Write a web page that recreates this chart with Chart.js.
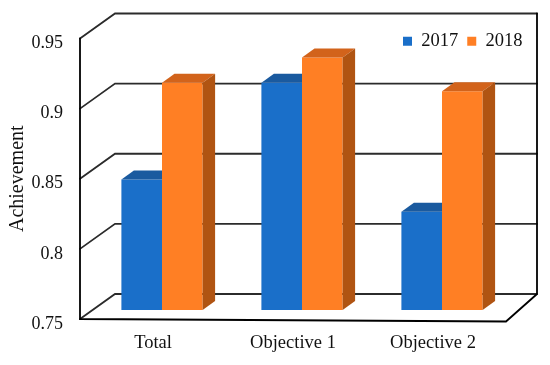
<!DOCTYPE html>
<html><head><meta charset="utf-8">
<style>html,body{margin:0;padding:0;background:#fff}canvas{display:block}</style>
<script src="https://cdn.jsdelivr.net/npm/chart.js@4/dist/chart.umd.min.js"></script>
</head><body><canvas id="c" width="550" height="365"></canvas>
<script>
const categories = ['Total', 'Objective 1', 'Objective 2'];
const series2017 = [0.843, 0.912, 0.820];
const series2018 = [0.912, 0.930, 0.906];
const axisMin = 0.75, axisMax = 0.95, axisStep = 0.05;

const shades = {
  '2017': {front:'#1a6fc9', top:'#1a5a9f', side:'#15508f'},
  '2018': {front:'#ff7f24', top:'#d2631b', side:'#b05412'}
};
const FONT = '"Liberation Serif"';
const barShift = {x: 9, y: -9};
const barDepth = {x: 12.5, y: 9};
const wall = {left: 80, backLeft: 115, backRight: 537, frontRightX: 506, frontRightY: 321.5, dy: 25};

const decor = {
  id: 'decor',
  afterLayout(chart) {
    const l = chart.legend;
    const x0 = l.legendHitBoxes[0].left, y0 = l.legendHitBoxes[0].top;
    l.left = 394; l.right = 550; l.top = 23; l.bottom = 62;
    const dx = 403 - x0, dy = 33 - y0;
    l.legendHitBoxes.forEach(b => { b.left += dx; b.top += dy; });
  },
  beforeDatasetsDraw(chart) {
    const {ctx} = chart, y = chart.scales.y;
    ctx.save();
    ctx.lineCap = 'round';
    ctx.strokeStyle = '#2b2b2b'; ctx.lineWidth = 1.8;
    y.ticks.forEach(t => {
      const p = y.getPixelForValue(t.value);
      ctx.beginPath();
      ctx.moveTo(wall.left, p);
      ctx.lineTo(wall.backLeft, p - wall.dy);
      ctx.lineTo(wall.backRight, p - wall.dy);
      ctx.stroke();
    });
    const top = y.getPixelForValue(axisMax), bot = y.getPixelForValue(axisMin);
    ctx.strokeStyle = '#000'; ctx.lineWidth = 1.8;
    ctx.beginPath();
    ctx.moveTo(wall.left, top); ctx.lineTo(wall.left, bot);
    ctx.lineTo(wall.frontRightX, wall.frontRightY);
    ctx.lineTo(wall.backRight, bot - wall.dy);
    ctx.lineTo(wall.backRight, top - wall.dy);
    ctx.stroke();
    ctx.restore();
  },
  beforeDatasetDraw(chart) {
    chart.ctx.save();
    chart.ctx.translate(barShift.x, barShift.y);
  },
  afterDatasetDraw(chart, args) {
    const {ctx} = chart, s = shades[chart.data.datasets[args.index].label];
    args.meta.data.forEach(b => {
      const L = b.x - b.width/2, R = b.x + b.width/2, T = b.y, B = b.base;
      const poly = (c, pts) => {
        ctx.fillStyle = c; ctx.beginPath();
        pts.forEach((p,i) => i ? ctx.lineTo(p[0],p[1]) : ctx.moveTo(p[0],p[1]));
        ctx.closePath(); ctx.fill();
      };
      ctx.save();
      if (args.index === 0) { // neighbouring bar stands in front of this one's right part
        ctx.beginPath(); ctx.rect(L - 1, 0, R - L + 1, chart.height); ctx.clip();
      }
      poly(s.top, [[L,T],[L+barDepth.x,T-barDepth.y],[R+barDepth.x,T-barDepth.y],[R,T]]);
      poly(s.side, [[R,T],[R+barDepth.x,T-barDepth.y],[R+barDepth.x,B-barDepth.y],[R,B]]);
      ctx.restore();
    });
    ctx.restore();
  }
};

new Chart(document.getElementById('c'), {
  type: 'bar',
  data: {
    labels: categories,
    datasets: [
      {label:'2017', data: series2017, backgroundColor: shades['2017'].front, base: axisMin, clip: false},
      {label:'2018', data: series2018, backgroundColor: shades['2018'].front, base: axisMin, clip: false}
    ]
  },
  options: {
    responsive: false, animation: false,
    layout: {padding: {top: 1, right: 47, bottom: 0, left: 0}},
    scales: {
      x: {
        grid: {display:false}, border: {display:false},
        ticks: {color:'#111', padding: 5, font:{family:FONT, size:18.5}, maxRotation:0},
        afterFit(s){ s.height = 46; }
      },
      y: {
        min: axisMin, max: axisMax,
        grid: {display:false}, border: {display:false},
        ticks: {stepSize: axisStep, color:'#111', padding: 12, labelOffset: 5,
          font:{family:FONT, size:18}, callback: v => String(+v.toFixed(2))},
        title: {display:true, text:'Achievement', color:'#111', font:{family:FONT, size:20}, padding:{top:6,bottom:0}},
        afterFit(s){ s.width = 83; }
      }
    },
    datasets: {bar: {categoryPercentage: 0.58, barPercentage: 1}},
    plugins: {
      tooltip: {enabled:false},
      legend: {
        position:'top', align:'start', fullSize:false,
        labels: {boxWidth:9, boxHeight:9, padding:9, color:'#111', font:{family:FONT, size:18.5}},
        onClick: null
      }
    }
  },
  plugins: [decor]
});
</script></body></html>
